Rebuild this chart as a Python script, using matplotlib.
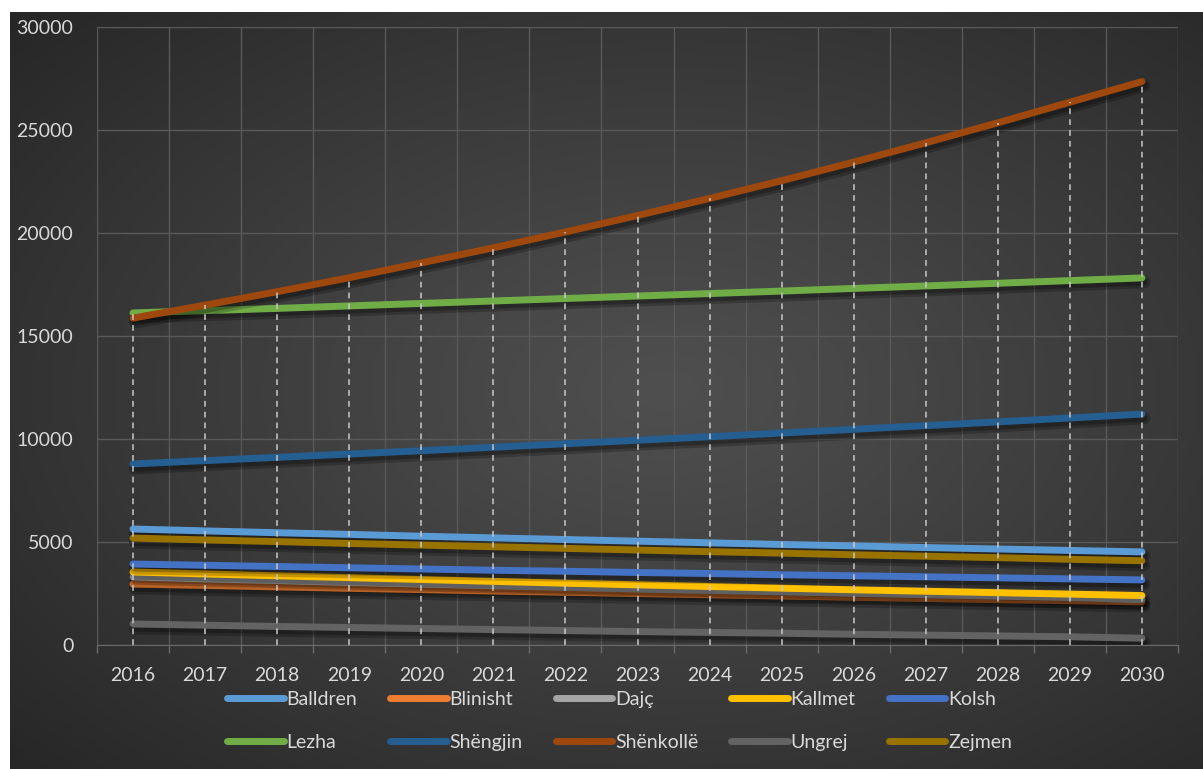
import matplotlib
matplotlib.use("Agg")
import matplotlib.pyplot as plt
import matplotlib.patheffects as pe
import numpy as np

years = list(range(2016, 2031))

balldren = [5630, 5540, 5450, 5370, 5280, 5200, 5120, 5040, 4960, 4880, 4810, 4730, 4660, 4590, 4520]
blinisht = [2960, 2890, 2820, 2750, 2690, 2620, 2560, 2500, 2440, 2380, 2320, 2260, 2200, 2150, 2090]
dajc = [3300, 3210, 3130, 3040, 2960, 2880, 2800, 2720, 2650, 2580, 2510, 2440, 2370, 2300, 2200]
kallmet = [3545, 3450, 3360, 3270, 3180, 3090, 3000, 2920, 2840, 2760, 2680, 2610, 2540, 2470, 2400]
kolsh = [3930, 3870, 3810, 3750, 3690, 3630, 3580, 3520, 3470, 3410, 3360, 3310, 3260, 3210, 3160]
lezha = [16120, 16230, 16340, 16460, 16580, 16700, 16820, 16940, 17060, 17180, 17310, 17430, 17560, 17690, 17820]
shengjin = [8790, 8950, 9110, 9270, 9430, 9600, 9770, 9940, 10110, 10290, 10470, 10650, 10830, 11020, 11210]
shenkolle = [15870, 16500, 17150, 17830, 18550, 19280, 20050, 20850, 21680, 22540, 23440, 24380, 25350, 26350, 27350]
ungrej = [1020, 960, 900, 850, 800, 750, 700, 650, 610, 570, 520, 480, 440, 400, 330]
zejmen = [5190, 5100, 5020, 4930, 4850, 4770, 4690, 4610, 4530, 4460, 4380, 4310, 4240, 4160, 4090]

names = ["Balldren", "Blinisht", "Dajç", "Kallmet", "Kolsh",
         "Lezha", "Shëngjin", "Shënkollë", "Ungrej", "Zejmen"]
series = [balldren, blinisht, dajc, kallmet, kolsh,
          lezha, shengjin, shenkolle, ungrej, zejmen]
colors = ["#5B9BD5", "#ED7D31", "#A5A5A5", "#FFC000", "#4472C4",
          "#70AD47", "#255E91", "#9E480E", "#636363", "#997300"]

plt.rcParams['font.family'] = ['Lato', 'DejaVu Sans']
txt = '#d9d9d9'

W, H = 1203, 769
fig = plt.figure(figsize=(W / 100, H / 100), dpi=100)
fig.patch.set_facecolor('white')

# dark radial background
bx0, btop = 10 / W, 12 / H
bg = fig.add_axes([bx0, 0, 1 - bx0, 1 - btop], zorder=-5)
gx, gy = np.meshgrid(np.linspace(0, 1, 400), np.linspace(0, 1, 260))
r = np.sqrt(((gx - 0.55) / 0.75) ** 2 + ((gy - 0.5) / 0.75) ** 2)
r = np.clip(r, 0, 1)
val = 0.31 - (0.31 - 0.15) * r ** 1.1
bg.imshow(np.dstack([val, val, val]), aspect='auto', extent=[0, 1, 0, 1],
          interpolation='bilinear')
bg.axis('off')

ax = fig.add_axes([97 / W, 1 - 645 / H, (1178 - 97) / W, (645 - 27) / H])
ax.set_facecolor('none')

x = np.arange(len(years))
for s, n, c in zip(series, names, colors):
    ax.plot(x, s, color=c, lw=5, solid_capstyle='round', label=n, zorder=3,
            path_effects=[pe.SimpleLineShadow(offset=(1.5, -3), shadow_color='black',
                                              alpha=0.22, linewidth=9),
                          pe.SimpleLineShadow(offset=(1.5, -3), shadow_color='black',
                                              alpha=0.25),
                          pe.Normal()])

# drop lines
tops = np.max(np.array(series), axis=0)
ax.vlines(x, 0, tops, colors='#c8c8c8', linewidth=1.3, linestyles=(0, (3.2, 2.8)),
          alpha=0.85, zorder=4)

ax.set_xlim(-0.5, len(years) - 0.5)
ax.set_ylim(0, 30000)
ax.set_yticks(np.arange(0, 30001, 5000))
ax.set_xticks(x)
ax.set_xticklabels([str(y) for y in years])
ax.set_xticks(np.arange(-0.5, len(years), 1), minor=True)

ax.grid(axis='y', color='#595959', lw=1, zorder=0)
ax.grid(axis='x', which='minor', color='#595959', lw=1, zorder=0)
ax.set_axisbelow(True)

for sp in ['top', 'right', 'left']:
    ax.spines[sp].set_visible(False)
ax.spines['bottom'].set_color('#6a6a6a')

ax.tick_params(axis='y', length=0, pad=17, labelsize=14, labelcolor=txt)
ax.tick_params(axis='x', which='major', length=0, pad=16, labelsize=14, labelcolor=txt)
ax.tick_params(axis='x', which='minor', length=6, direction='out', color='#6a6a6a', width=1)

# legend, row-wise order
handles, labels = ax.get_legend_handles_labels()
order = [0, 5, 1, 6, 2, 7, 3, 8, 4, 9]
leg = fig.legend([handles[i] for i in order], [labels[i] for i in order],
                 ncol=5, loc='center', bbox_to_anchor=(0.515, 1 - 721 / H),
                 frameon=False, fontsize=14, handlelength=2.9, handletextpad=0.15,
                 columnspacing=1.7, labelspacing=1.35, labelcolor=txt)
for h in leg.legend_handles:
    h.set_path_effects([])
    h.set_linewidth(5)
    h.set_solid_capstyle('round')

fig.savefig('out.png', dpi=100, facecolor='white')
